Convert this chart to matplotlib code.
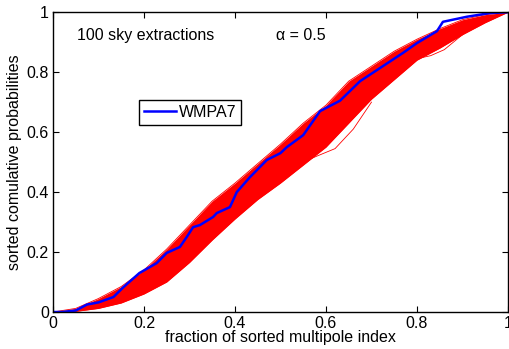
import numpy as np
import matplotlib.pyplot as plt

plt.rcParams['font.family'] = ['Liberation Sans', 'DejaVu Sans']

# envelope of the 100 sky extractions
band_x = [0, 0.05, 0.1, 0.15, 0.2, 0.25, 0.3, 0.35, 0.4, 0.45, 0.5,
          0.55, 0.6, 0.65, 0.7, 0.75, 0.8, 0.85, 0.9, 0.95, 1]
band_upper = [0, 0.012, 0.045, 0.085, 0.14, 0.21, 0.29, 0.37, 0.43, 0.495, 0.56,
              0.63, 0.69, 0.77, 0.82, 0.87, 0.91, 0.945, 0.975, 0.992, 1]
band_lower = [0, 0.002, 0.012, 0.03, 0.06, 0.1, 0.165, 0.24, 0.31, 0.375, 0.43,
              0.49, 0.55, 0.63, 0.71, 0.775, 0.84, 0.88, 0.925, 0.965, 1]

# a few stray extractions below the bulk of the band
stray1_x = [0.52, 0.55, 0.58, 0.62, 0.66, 0.7]
stray1_y = [0.47, 0.5, 0.52, 0.545, 0.61, 0.7]
stray2_x = [0.76, 0.8, 0.83, 0.86, 0.9]
stray2_y = [0.81, 0.845, 0.855, 0.875, 0.925]

# WMPA7
wmap_x = [0, 0.02, 0.05, 0.075, 0.1, 0.133, 0.155, 0.19, 0.228, 0.25, 0.279,
          0.294, 0.308, 0.323, 0.352, 0.36, 0.389, 0.404, 0.433, 0.448, 0.47,
          0.5, 0.514, 0.55, 0.587, 0.631, 0.675, 0.725, 0.77, 0.8, 0.844,
          0.857, 0.91, 0.96, 1]
wmap_y = [0, 0, 0.005, 0.025, 0.032, 0.05, 0.083, 0.13, 0.163, 0.197, 0.217,
          0.25, 0.283, 0.29, 0.317, 0.33, 0.35, 0.4, 0.45, 0.473, 0.507,
          0.53, 0.55, 0.59, 0.67, 0.705, 0.77, 0.82, 0.865, 0.897, 0.937,
          0.968, 0.985, 0.997, 1]

fig = plt.figure(figsize=(5.09, 3.49), dpi=100)
ax = fig.add_axes([0.104, 0.106, 0.894, 0.859])

ax.fill_between(band_x, band_lower, band_upper, color='red', lw=0)
ax.plot(band_x, band_upper, color='red', lw=0.6)
ax.plot(band_x, band_lower, color='red', lw=0.6)
ax.plot(stray1_x, stray1_y, color='red', lw=0.6)
ax.plot(stray2_x, stray2_y, color='red', lw=0.6)
ax.plot(wmap_x, wmap_y, color='blue', lw=1.8, label='WMPA7')

ax.set_xlim(0, 1)
ax.set_ylim(0, 1)
ax.set_xticks([0, 0.2, 0.4, 0.6, 0.8, 1])
ax.set_yticks([0, 0.2, 0.4, 0.6, 0.8, 1])
ax.set_xticklabels(['0', '0.2', '0.4', '0.6', '0.8', '1'])
ax.set_yticklabels(['0', '0.2', '0.4', '0.6', '0.8', '1'])
ax.tick_params(direction='in', top=True, right=True, length=4, labelsize=11.5, pad=3)
for s in ax.spines.values():
    s.set_linewidth(1.0)

ax.set_xlabel('fraction of sorted multipole index', fontsize=11.5, labelpad=-1)
ax.set_ylabel('sorted comulative probabilities', fontsize=11.5, labelpad=3)

ax.text(0.053, 0.923, '100 sky extractions', transform=ax.transAxes,
        fontsize=11.5, va='center')
ax.text(0.49, 0.923, '\u03b1 = 0.5', transform=ax.transAxes,
        fontsize=11.5, va='center')

leg = ax.legend(loc='upper left', bbox_to_anchor=(0.189, 0.707), fontsize=11.5,
                fancybox=False, edgecolor='black', framealpha=1,
                handlelength=2.0, handletextpad=0.2, borderpad=0.3,
                borderaxespad=0)
leg.get_frame().set_linewidth(1.0)

fig.savefig('out.png', dpi=100)
